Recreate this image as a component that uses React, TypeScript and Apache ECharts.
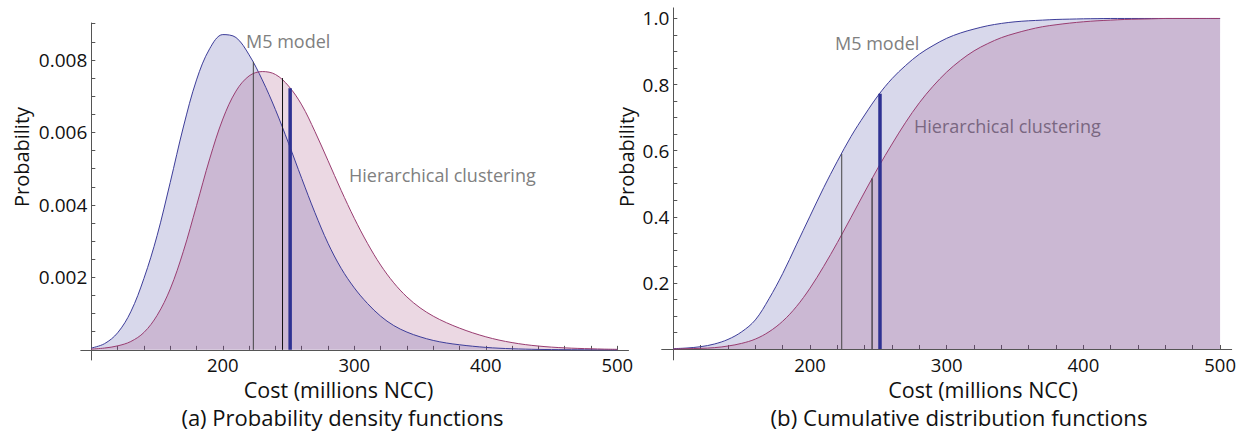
import React, { useEffect, useRef } from "react";
import * as echarts from "echarts";

// Cost grid (millions NCC)
const costs = [100,110,120,130,140,150,160,170,180,190,200,210,220,230,240,250,260,270,280,290,300,310,320,330,340,350,360,370,380,390,400,410,420,430,440,450,460,470,480,490,500];

// Probability density functions
const m5Pdf = [0.00005,0.00017,0.00047,0.00105,0.00197,0.00315,0.00462,0.00615,0.00745,0.00831,0.0087,0.00862,0.00814,0.00745,0.00663,0.0057,0.00473,0.00379,0.00294,0.00225,0.00171,0.00128,0.00093,0.00067,0.00049,0.00036,0.00026,0.00019,0.00014,0.0001,0.000068,0.000045,0.00003,0.00002,0.000012,0.000008,0.000005,0.000003,0.000002,0.000001,0.000001];
const hcPdf = [0.00002,0.00005,0.00011,0.00023,0.00048,0.00095,0.00168,0.00272,0.00398,0.00527,0.00637,0.00714,0.00756,0.00768,0.0076,0.00728,0.00676,0.00603,0.00522,0.0044,0.00363,0.00294,0.00234,0.00185,0.00146,0.00116,0.00093,0.00075,0.0006,0.00047,0.00036,0.00027,0.0002,0.000145,0.000105,0.000075,0.000055,0.00004,0.00003,0.00002,0.000015];

// Cumulative distribution functions
const m5Cdf = [0.001,0.003,0.007,0.015,0.029,0.052,0.088,0.152,0.228,0.315,0.402,0.488,0.568,0.643,0.708,0.768,0.818,0.858,0.892,0.918,0.94,0.956,0.968,0.978,0.985,0.99,0.993,0.995,0.997,0.998,0.999,0.9995,1,1,1,1,1,1,1,1,1];
const hcCdf = [0,0.001,0.002,0.004,0.009,0.017,0.03,0.052,0.084,0.128,0.184,0.25,0.322,0.398,0.475,0.55,0.62,0.686,0.745,0.795,0.838,0.873,0.902,0.924,0.942,0.955,0.966,0.975,0.981,0.986,0.99,0.993,0.995,0.997,0.998,0.999,1,1,1,1,1];

// Vertical markers
const markerCosts = [223.2, 245.4, 251.2];
const markerPdfTops = [0.00795, 0.0075, 0.00722];
const markerCdfTops = [0.59, 0.516, 0.772];

// Tick labels
const costTickLabels = [200, 300, 400, 500];
const costMinorTicks = [120,140,160,180,200,220,240,260,280,300,320,340,360,380,400,420,440,460,480,500];
const pdfTickLabels = [0.002, 0.004, 0.006, 0.008];
const pdfTicks = [0.0005,0.001,0.0015,0.002,0.0025,0.003,0.0035,0.004,0.0045,0.005,0.0055,0.006,0.0065,0.007,0.0075,0.008,0.0085,0.009];
const cdfTickLabels = [0.2, 0.4, 0.6, 0.8, 1.0];
const cdfTicks = [0.05,0.1,0.15,0.2,0.25,0.3,0.35,0.4,0.45,0.5,0.55,0.6,0.65,0.7,0.75,0.8,0.85,0.9,0.95,1.0];

const FONT = "'Open Sans', 'Noto Sans', sans-serif";
const BLUE = "#3d3d99";
const PINK = "#993d71";
const AXIS = "#555555";

export default function App() {
  const ref = useRef<HTMLDivElement>(null);
  useEffect(() => {
    if (!ref.current) return;
    const chart = echarts.init(ref.current, undefined, { renderer: "svg" });
    const pairs = (ys: number[]) => costs.map((c, i) => [c, ys[i]]);
    const curve = (name: string, ys: number[], color: string, gi: number) => ({
      type: "line",
      name,
      xAxisIndex: gi,
      yAxisIndex: gi,
      data: pairs(ys),
      smooth: 0.35,
      symbol: "none",
      showSymbol: false,
      lineStyle: { color, width: 1 },
      areaStyle: { color, opacity: 0.2 },
      z: 2,
    });
    const marker = (x: number, top: number, gi: number, color: string, width: number) => ({
      type: "line",
      xAxisIndex: gi,
      yAxisIndex: gi,
      data: [[x, 0], [x, top]],
      symbol: "none",
      showSymbol: false,
      lineStyle: { color, width, cap: "butt" },
      z: 3,
    });
    const markerColors = ["#444444", "#111111", "#2e3192"];
    const markerWidths = [1, 1, 3.5];
    const xAxis = (gi: number, min: number, max: number, margin: number) => ({
      type: "value",
      gridIndex: gi,
      min,
      max,
      axisLine: { show: true, onZero: true, lineStyle: { color: AXIS, width: 1 } },
      axisTick: { show: true, inside: true, length: 4, customValues: costMinorTicks, lineStyle: { color: AXIS } },
      axisLabel: { customValues: costTickLabels, color: "#111", fontSize: 18.5, lineHeight: 16, fontFamily: FONT, margin },
      splitLine: { show: false },
    });
    const yAxis = (gi: number, min: number, max: number, offset: number, ticks: number[], labels: number[], digits: number) => ({
      type: "value",
      gridIndex: gi,
      min,
      max,
      offset,
      axisLine: { show: true, onZero: false, lineStyle: { color: AXIS, width: 1 } },
      axisTick: { show: true, inside: true, length: 4, customValues: ticks, lineStyle: { color: AXIS } },
      axisLabel: { customValues: labels, color: "#111", fontSize: 19, lineHeight: 17, fontFamily: FONT, margin: 4, formatter: (v: number) => v.toFixed(digits) },
      splitLine: { show: false },
    });
    const txt = (text: string, x: number, y: number, size: number, fill: string, align: string, rotation = 0) => ({
      type: "text",
      x,
      y,
      rotation,
      style: { text, fill, font: `${size}px ${FONT}`, lineHeight: Math.round(size * 0.95), textAlign: align, textVerticalAlign: "middle" },
    });
    chart.setOption({
      animation: false,
      backgroundColor: "#ffffff",
      grid: [
        { left: 80.8, top: 23, width: 547.7, height: 337 },
        { left: 661.7, top: 7.9, width: 570, height: 352 },
      ],
      xAxis: [xAxis(0, 92, 508.5, -3.4), xAxis(1, 91.5, 508.5, -3.5)],
      yAxis: [
        yAxis(0, -0.00028, 0.00902, -10.5, pdfTicks, pdfTickLabels, 3),
        yAxis(1, -0.033, 1.032, -11.6, cdfTicks, cdfTickLabels, 1),
      ],
      series: [
        curve("M5 model", m5Pdf, BLUE, 0),
        curve("Hierarchical clustering", hcPdf, PINK, 0),
        curve("M5 model", m5Cdf, BLUE, 1),
        curve("Hierarchical clustering", hcCdf, PINK, 1),
        ...markerCosts.map((c, i) => marker(c, markerPdfTops[i], 0, markerColors[i], markerWidths[i])),
        ...markerCosts.map((c, i) => marker(c, markerCdfTops[i], 1, markerColors[i], markerWidths[i])),
      ],
      graphic: [
        txt("M5 model", 246, 41, 18, "#808080", "left"),
        txt("Hierarchical clustering", 349, 175, 18, "#808080", "left"),
        txt("M5 model", 835, 43, 18, "#808080", "left"),
        txt("Hierarchical clustering", 914, 126, 18, "#808080", "left"),
        txt("Probability", 21, 157, 20, "#111", "center", Math.PI / 2),
        txt("Probability", 626, 157, 20, "#111", "center", Math.PI / 2),
        txt("Cost (millions NCC)", 338.5, 389.5, 21.5, "#111", "center"),
        txt("Cost (millions NCC)", 983, 389.5, 21.5, "#111", "center"),
        txt("(a) Probability density functions", 342.5, 417, 22, "#111", "center"),
        txt("(b) Cumulative distribution functions", 959, 417, 22.2, "#111", "center"),
      ],
    });
    return () => chart.dispose();
  }, []);
  return <div ref={ref} style={{ position: "absolute", left: 0, top: 0, width: 1245, height: 431 }} />;
}
